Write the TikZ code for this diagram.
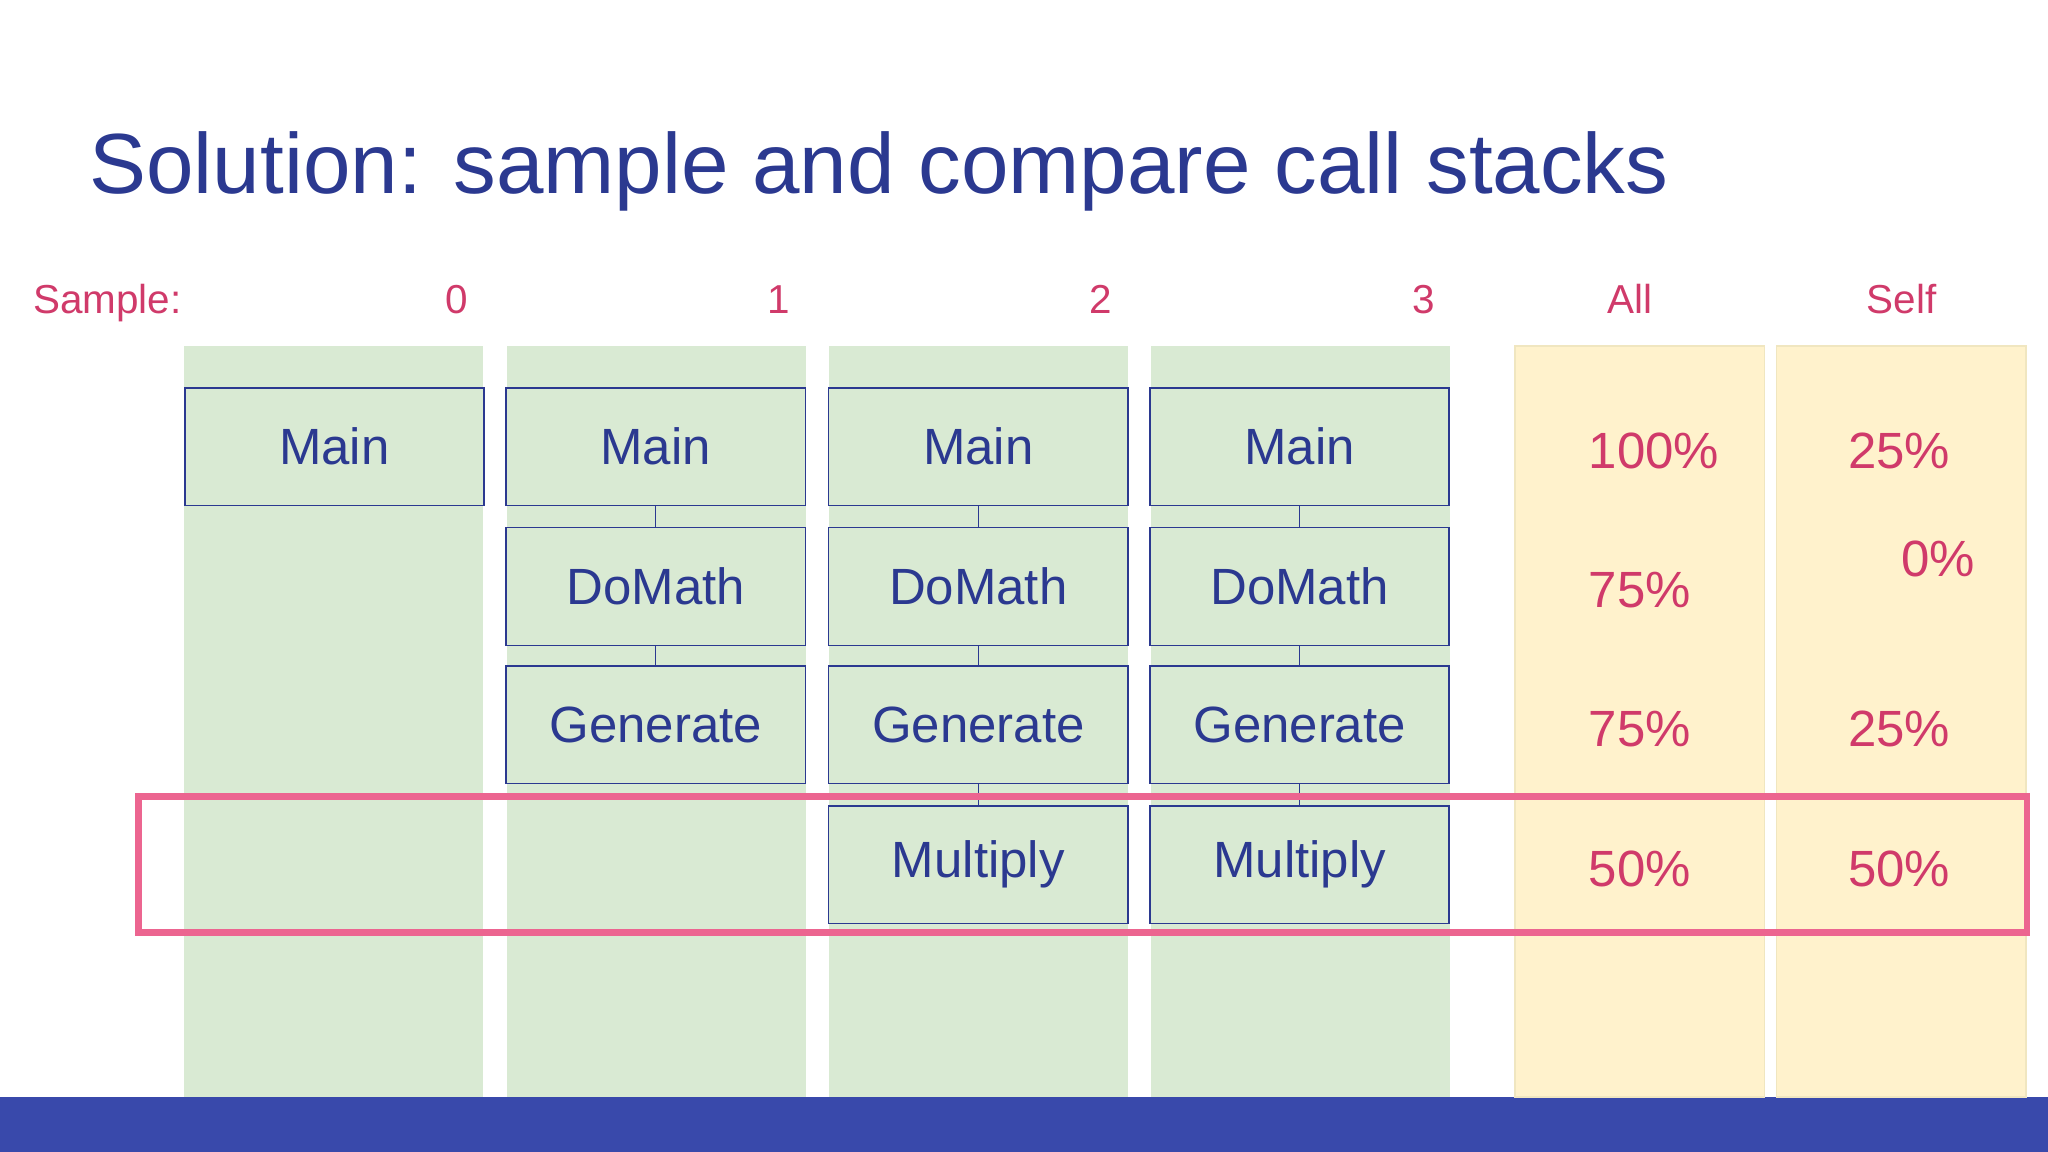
\documentclass[tikz,border=0pt]{standalone}
\usepackage{fontspec}
\setmainfont{Liberation Sans}
\definecolor{ttl}{HTML}{2B3990}
\definecolor{pnk}{HTML}{D03A6A}
\definecolor{grn}{HTML}{D9EAD3}
\definecolor{yel}{HTML}{FFF2CC}
\definecolor{ybd}{HTML}{F0E6C0}
\definecolor{hl}{HTML}{EC6590}
\definecolor{bar}{HTML}{3949AB}
\begin{document}
\begin{tikzpicture}[x=0.013061cm,y=-0.013061cm,
  fn/.style={draw=ttl,fill=grn,minimum width=229*0.013061cm,minimum height=90*0.013061cm,inner sep=0pt,text=ttl,font=\fontsize{14.5}{16}\selectfont},
  hdr/.style={text=pnk,font=\fontsize{11.5}{13}\selectfont,inner sep=0pt},
  pct/.style={text=pnk,font=\fontsize{14.5}{16}\selectfont,inner sep=0pt}]
\useasboundingbox (0,0) rectangle (1568,882);
\fill[white] (0,0) rectangle (1568,882);
\fill[bar] (0,840) rectangle (1568,882);
\node[anchor=base west,text=ttl,font=\fontsize{24.3}{27}\selectfont,inner sep=0pt] (title) at (68,148) {Solution: sample and compare call stacks};
\node[hdr,anchor=base west] (hs) at (25,240) {Sample:};
\foreach \i/\x in {0/350,1/596,2/843,3/1090}{\node[hdr,anchor=base] (h\i) at (\x,240) {\i};}
\node[hdr,anchor=base] (hall) at (1248,240) {All};
\node[hdr,anchor=base] (hself) at (1456,240) {Self};
\foreach \x in {141,388,635,881}{\fill[grn] (\x,265) rectangle (\x+229,840);}
\filldraw[fill=yel,draw=ybd] (1160,265) rectangle (1351,840);
\filldraw[fill=yel,draw=ybd] (1360,265) rectangle (1551,840);
\node[fn] (m0) at (256,342) {Main};
\node[fn] (m1) at (502,342) {Main};
\node[fn] (d1) at (502,449) {DoMath};
\node[fn] (g1) at (502,555) {Generate};
\node[fn] (m2) at (749,342) {Main};
\node[fn] (d2) at (749,449) {DoMath};
\node[fn] (g2) at (749,555) {Generate};
\node[fn] (x2) at (749,662) {Multiply};
\node[fn] (m3) at (995,342) {Main};
\node[fn] (d3) at (995,449) {DoMath};
\node[fn] (g3) at (995,555) {Generate};
\node[fn] (x3) at (995,662) {Multiply};
\draw[ttl] (m1)--(d1) (d1)--(g1) (m2)--(d2) (d2)--(g2) (g2)--(x2) (m3)--(d3) (d3)--(g3) (g3)--(x3);
\node[pct,anchor=west] (a1) at (1216,345) {100\%};
\node[pct,anchor=west] (a2) at (1216,452) {75\%};
\node[pct,anchor=west] (a3) at (1216,558) {75\%};
\node[pct,anchor=west] (a4) at (1216,665) {50\%};
\node[pct] (s1) at (1454,345) {25\%};
\node[pct] (s2) at (1484,428) {0\%};
\node[pct] (s3) at (1454,558) {25\%};
\node[pct] (s4) at (1454,665) {50\%};
\draw[hl,line width=5*0.013061cm] (106,610) rectangle (1552,714);
\end{tikzpicture}
\end{document}
